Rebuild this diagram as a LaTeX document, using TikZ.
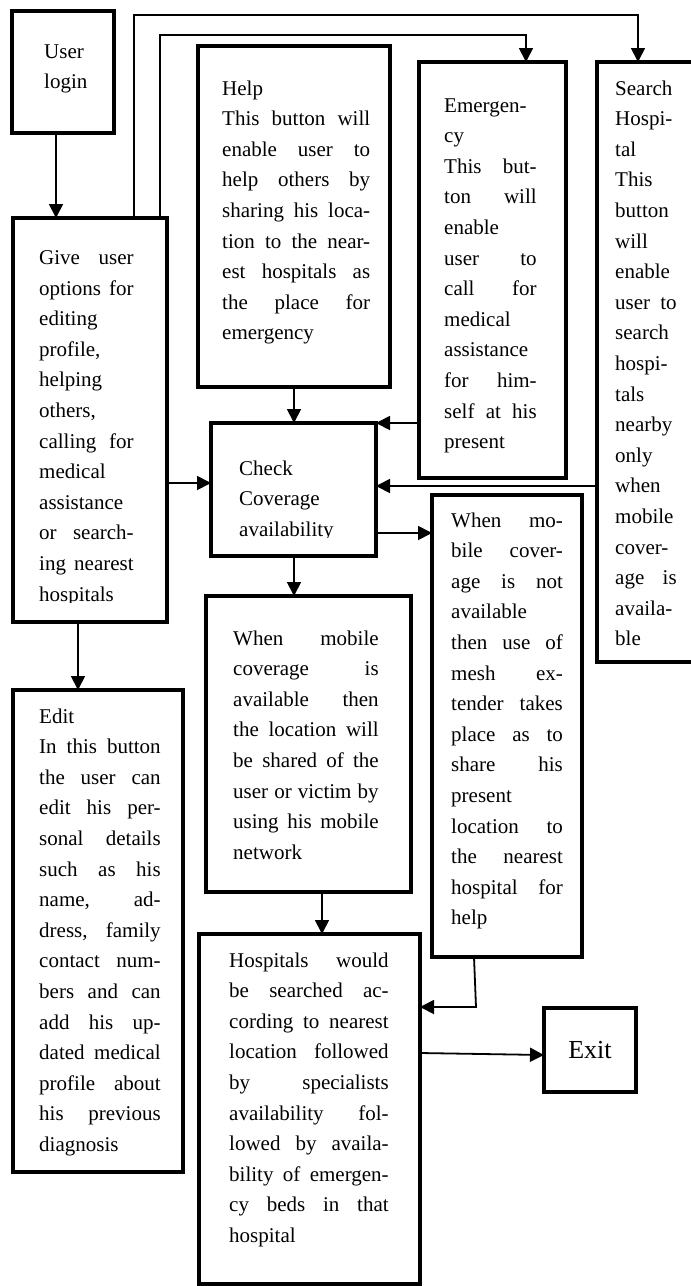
\documentclass[tikz,border=0pt]{standalone}
\usepackage{fontspec}
\setmainfont{Liberation Serif}
\usetikzlibrary{arrows.meta}
\tikzset{%
  box/.style  = {draw, line width=3.6pt, anchor=north west,%
                 inner sep=0pt, outer sep=0pt},%
  txt/.style  = {anchor=base west, inner sep=0pt, align=justify,%
                 font=\fontsize{21}{30.6}\selectfont},%
  conn/.style = {line width=1.8pt, -{Triangle[length=14pt,width=14pt]}}%
}
\hyphenpenalty=10000
\tolerance=10000
\hbadness=10000
\begin{document}
\begin{tikzpicture}[x=1pt,y=-1pt]
	\useasboundingbox (0,0) rectangle (691,1286);
	% boxes
	\node[box, minimum width=102, minimum height=122] (login) at (12,11) {};
	\node[box, minimum width=154, minimum height=404] (give) at (13,218) {};
	\node[box, minimum width=192, minimum height=341] (help) at (198,46) {};
	\node[box, minimum width=147, minimum height=416] (emerg) at (419,62) {};
	\node[box, minimum width=100, minimum height=600] (search) at (597,62) {};
	\node[box, minimum width=165, minimum height=133] (check) at (211,423) {};
	\node[box, minimum width=205, minimum height=296] (mobile) at (206,596) {};
	\node[box, minimum width=150, minimum height=462] (mesh) at (432,495) {};
	\node[box, minimum width=170, minimum height=482] (edit) at (13,690) {};
	\node[box, minimum width=221, minimum height=350] (hosp) at (199,934) {};
	\node[box, line width=3.4pt, minimum width=92, minimum height=84,
		font=\fontsize{26}{30}\selectfont] (exit) at (544,1008) {Exit};
	% texts
	\node[txt, text width=60] (logintxt) at (44,58) {User\newline login};
	\begin{scope}
		\clip (13,218) rectangle (167,602.5);
		\node[txt, text width=94.5] (givetxt) at (39,264.5) {Give user\linebreak
			options for\linebreak editing\linebreak profile,\linebreak
			helping\linebreak others,\linebreak calling for\linebreak
			medical\linebreak assistance\linebreak or search-\linebreak
			ing nearest\linebreak hospitals};
	\end{scope}
	\node[txt, text width=148] (helptxt) at (222,95) {Help\newline
		This button will\linebreak enable user to\linebreak
		help others by\linebreak sharing his loca-\linebreak
		tion to the near-\linebreak est hospitals as\linebreak
		the place for\linebreak emergency};
	\node[txt, text width=92.5] (emergtxt) at (444,112) {Emergen-\linebreak cy\newline
		This but-\linebreak ton will\linebreak enable\linebreak user to\linebreak
		call for\linebreak medical\linebreak assistance\linebreak for him-\linebreak
		self at his\linebreak present};
	\node[txt, text width=61.5] (searchtxt) at (615,95) {Search\linebreak
		Hospi-\linebreak tal\newline This\linebreak button\linebreak will\linebreak
		enable\linebreak user to\linebreak search\linebreak hospi-\linebreak
		tals\linebreak nearby\linebreak only\linebreak when\linebreak
		mobile\linebreak cover-\linebreak age is\linebreak availa-\linebreak ble};
	\begin{scope}
		\clip (211,423) rectangle (376,537.5);
		\node[txt, text width=120] (checktxt) at (239,475) {Check\newline
			Coverage\newline availability};
	\end{scope}
	\node[txt, text width=145.5] (mobiletxt) at (233,645) {When mobile\linebreak
		coverage is\linebreak available then\linebreak the location will\linebreak
		be shared of the\linebreak user or victim by\linebreak
		using his mobile\linebreak network};
	\node[txt, text width=111.7] (meshtxt) at (451,527) {When mo-\linebreak
		bile cover-\linebreak age is not\linebreak available\linebreak
		then use of\linebreak mesh ex-\linebreak tender takes\linebreak
		place as to\linebreak share his\linebreak present\linebreak
		location to\linebreak the nearest\linebreak hospital for\linebreak help};
	\node[txt, text width=121.5] (edittxt) at (39,723) {Edit\newline
		In this button\linebreak the user can\linebreak edit his per-\linebreak
		sonal details\linebreak such as his\linebreak name, ad-\linebreak
		dress, family\linebreak contact num-\linebreak bers and can\linebreak
		add his up-\linebreak dated medical\linebreak profile about\linebreak
		his previous\linebreak diagnosis};
	\node[txt, text width=159.5] (hosptxt) at (229,967) {Hospitals would\linebreak
		be searched ac-\linebreak cording to nearest\linebreak
		location followed\linebreak by specialists\linebreak
		availability fol-\linebreak lowed by availa-\linebreak
		bility of emergen-\linebreak cy beds in that\linebreak hospital};
	% connectors
	\draw[conn] (login.south -| 56,0) -- (give.north -| 56,0);
	\draw[conn] (give.north -| 134,0) -- (134,15) -| (search.north -| 638,0);
	\draw[conn] (give.north -| 160,0) -- (160,35) -| (emerg.north -| 526,0);
	\draw[conn] (give.east |- 0,483) -- (check.west |- 0,483);
	\draw[conn] (give.south -| 78,0) -- (edit.north -| 78,0);
	\draw[conn] (help.south) -- (help.south |- check.north);
	\draw[conn] (emerg.west |- check.north east) -- (check.north east);
	\draw[conn] (search.west |- 0,486) -- (check.east |- 0,486);
	\draw[conn] (check.east |- 0,533) -- (mesh.west |- 0,533);
	\draw[conn] (check.south -| 294,0) -- (mobile.north -| 294,0);
	\draw[conn] (mobile.south -| 322,0) -- (hosp.north -| 322,0);
	\draw[conn] (mesh.south -| 474,0) -- (476,1007) -- (hosp.east |- 0,1007);
	\draw[conn] (hosp.east |- 0,1053) -- (exit.west |- 0,1055);
\end{tikzpicture}
\end{document}
